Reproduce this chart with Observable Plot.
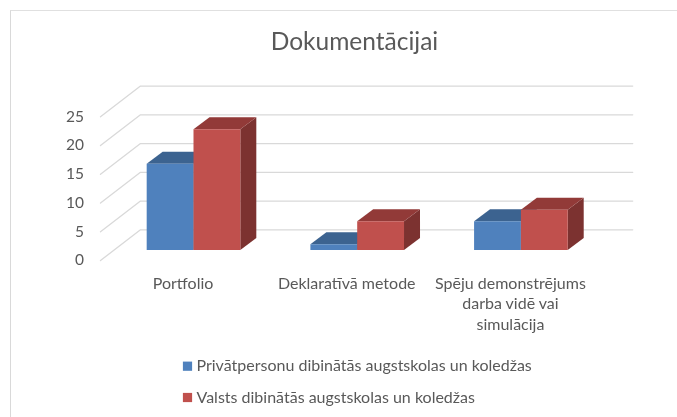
<!DOCTYPE html>
<html>
<head>
<meta charset="utf-8">
<script src="https://cdn.jsdelivr.net/npm/d3@7"></script>
<script src="https://cdn.jsdelivr.net/npm/@observablehq/plot@0.6"></script>
<style>
html,body{margin:0;padding:0;background:#fff;overflow:hidden}
#frame{position:absolute;left:10px;top:10px;right:0;bottom:0;border-top:1.5px solid #e0e0e0;border-left:1.5px solid #d9d9d9;pointer-events:none}
#chart{position:absolute;left:0;top:0}
#chart svg text{filter:blur(.3px)}
</style>
</head>
<body>
<div id="chart"></div>
<div id="frame"></div>
<script>
const title = "Dokumentācijai";
const categories = ["Portfolio", "Deklaratīvā metode", "Spēju demonstrējums\ndarba vidē vai\nsimulācija"];
const seriesNames = ["Privātpersonu dibinātās augstskolas un koledžas", "Valsts dibinātās augstskolas un koledžas"];
const privateValues = [15, 1, 5];
const stateValues = [21, 5, 7];
const yTicks = [0, 5, 10, 15, 20, 25];

const font = "Lato, 'Open Sans', sans-serif";
const textColor = "#595959";
const gridColor = "#d9d9d9";
const shades = [
  {front: "#4f81bd", top: "#3c6390", side: "#335578"},
  {front: "#c0504d", top: "#923a38", side: "#7c3230"}
];
const barW = 0.286, depthX = 0.0977, depthY = 2.1;
const groupLeft = i => i + 0.5 - barW;
const values = [privateValues, stateValues];

const wallLeft = 0.173, wallRight = 3.18, frontX = -0.0712;
const backLift = 3.6, frontDrop = -1.74;

const gridLines = yTicks.flatMap(v => [
  {k: v, x: frontX, y: v + frontDrop},
  {k: v, x: wallLeft, y: v + backLift},
  {k: v, x: wallRight, y: v + backLift}
]);

const barMarks = values.flatMap((vals, s) => {
  const bars = vals.map((v, i) => {
    const x1 = groupLeft(i) + s * barW, x2 = x1 + barW;
    return {key: i, v, x1, x2};
  });
  const side = bars.flatMap(b => [
    {key: b.key, x: b.x2, y1: 0, y2: b.v},
    {key: b.key, x: b.x2 + depthX, y1: depthY, y2: b.v + depthY}
  ]);
  const top = bars.flatMap(b => [
    {key: b.key, y: b.v, x1: b.x1, x2: b.x2},
    {key: b.key, y: b.v + depthY, x1: b.x1 + depthX, x2: b.x2 + depthX}
  ]);
  return [
    Plot.areaY(side, {x: "x", y1: "y1", y2: "y2", z: "key", fill: shades[s].side}),
    Plot.areaX(top, {y: "y", x1: "x1", x2: "x2", z: "key", fill: shades[s].top}),
    Plot.rectY(bars, {x1: "x1", x2: "x2", y1: 0, y2: "v", fill: shades[s].front})
  ];
});

const legendMarks = seriesNames.flatMap((name, s) => {
  const dy = [365.7, 397][s];
  return [
    Plot.dot([name], {frameAnchor: "top-left", dx: 187, dy, symbol: "square", r: 5.2, fill: shades[s].front}),
    Plot.text([name], {
      frameAnchor: "top-left", dx: 196, dy, text: d => d,
      textAnchor: "start", lineAnchor: "middle", fontSize: 16, fill: textColor, fontFamily: font
    })
  ];
});

const chart = Plot.plot({
  width: 677,
  height: 417,
  margin: 0,
  style: {background: "#fff", fontFamily: font},
  x: {type: "linear", domain: [0, 3], range: [111.65, 602.75], axis: null},
  y: {type: "linear", domain: [0, 25], range: [250, 106.25], axis: null},
  marks: [
    Plot.line(gridLines, {x: "x", y: "y", z: "k", stroke: gridColor, strokeWidth: 1.3}),
    ...barMarks,
    Plot.text(yTicks, {
      x: -0.172, y: d => d + frontDrop, text: d => String(d),
      textAnchor: "end", fontSize: 15.5, fill: textColor, fontFamily: font
    }),
    Plot.text(categories, {
      x: (d, i) => i + 0.433, y: -4.2, text: d => d,
      lineAnchor: "top", textAnchor: "middle", fontSize: 16, lineHeight: 1.27,
      fill: textColor, fontFamily: font
    }),
    Plot.text([title], {
      frameAnchor: "top-left", dx: 354, dy: 42, text: d => d,
      textAnchor: "middle", lineAnchor: "middle", fontSize: 24.5, fill: textColor, fontFamily: font
    }),
    ...legendMarks
  ]
});
document.getElementById("chart").append(chart);
</script>
</body>
</html>
